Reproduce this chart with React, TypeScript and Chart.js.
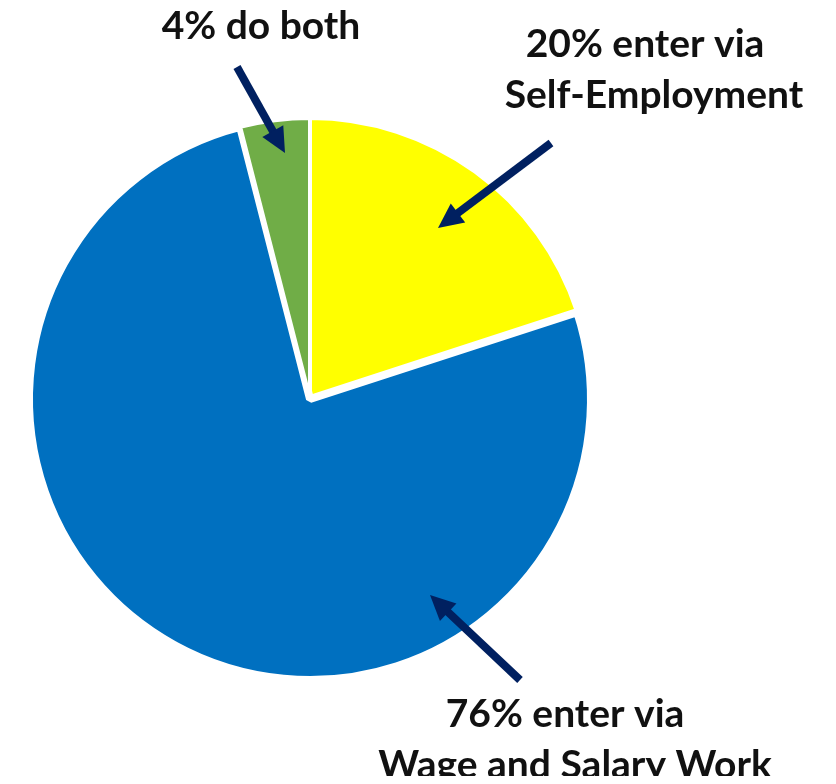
import React, { useEffect, useRef } from "react";
import { Chart, registerables } from "chart.js";

Chart.register(...registerables);

const categories = ["Self-Employment", "Wage and Salary Work", "Both"];
const shares = [20, 76, 4];
const sliceColors = ["#FFFF00", "#0070C0", "#70AD47"];
const sliceBorders = [4, 8, 4];

const labelLines = [
  ["4% do both"],
  ["20% enter via", "Self-Employment"],
  ["76% enter via", "Wage and Salary Work"],
];

const NAVY = "#002060";
const FONT = "bold 39px Lato, 'Open Sans', sans-serif";

function drawArrow(ctx: CanvasRenderingContext2D, x1: number, y1: number, x2: number, y2: number) {
  const ang = Math.atan2(y2 - y1, x2 - x1);
  const headLen = 25;
  const headHalf = 12;
  const bx = x2 - Math.cos(ang) * headLen;
  const by = y2 - Math.sin(ang) * headLen;
  ctx.save();
  ctx.strokeStyle = NAVY;
  ctx.fillStyle = NAVY;
  ctx.lineWidth = 8;
  ctx.beginPath();
  ctx.moveTo(x1, y1);
  ctx.lineTo(bx + Math.cos(ang) * 2, by + Math.sin(ang) * 2);
  ctx.stroke();
  ctx.beginPath();
  ctx.moveTo(x2, y2);
  ctx.lineTo(bx - Math.sin(ang) * headHalf, by + Math.cos(ang) * headHalf);
  ctx.lineTo(bx + Math.sin(ang) * headHalf, by - Math.cos(ang) * headHalf);
  ctx.closePath();
  ctx.fill();
  ctx.restore();
}

const annotationPlugin = {
  id: "annotations",
  afterDraw(chart: any) {
    const ctx: CanvasRenderingContext2D = chart.ctx;
    ctx.save();
    ctx.fillStyle = "#111111";
    ctx.font = FONT;
    ctx.textAlign = "center";
    ctx.textBaseline = "alphabetic";
    const anchors = [
      { x: 253, y: 31, lh: 0, dx: 0 },
      { x: 637, y: 49, lh: 51, dx: 9 },
      { x: 557, y: 719, lh: 51, dx: 10 },
    ];
    labelLines.forEach((lines, i) => {
      lines.forEach((t, j) => {
        ctx.fillText(t, anchors[i].x + (j === 1 ? anchors[i].dx : 0), anchors[i].y + j * anchors[i].lh);
      });
    });
    ctx.restore();
    drawArrow(ctx, 229, 59, 277, 145);
    drawArrow(ctx, 543, 135, 430, 220);
    drawArrow(ctx, 512, 672, 422, 587);
  },
};

export default function App() {
  const ref = useRef<HTMLCanvasElement | null>(null);
  useEffect(() => {
    if (!ref.current) return;
    const chart = new Chart(ref.current, {
      type: "pie",
      data: {
        labels: categories,
        datasets: [
          {
            data: shares,
            backgroundColor: sliceColors,
            borderColor: "#FFFFFF",
            borderWidth: sliceBorders,
            hoverBorderWidth: sliceBorders,
            borderJoinStyle: "bevel",
          } as any,
        ],
      },
      options: {
        responsive: false,
        animation: false,
        events: [],
        layout: { padding: { left: 17, top: 106, right: 233, bottom: 92 } },
        plugins: {
          legend: { display: false },
          tooltip: { enabled: false },
        },
      },
      plugins: [annotationPlugin],
    });
    return () => chart.destroy();
  }, []);
  return (
    <div style={{ width: 820, height: 768 }}>
      <canvas ref={ref} width={820} height={768} style={{ display: "block", width: 820, height: 768 }} />
    </div>
  );
}
